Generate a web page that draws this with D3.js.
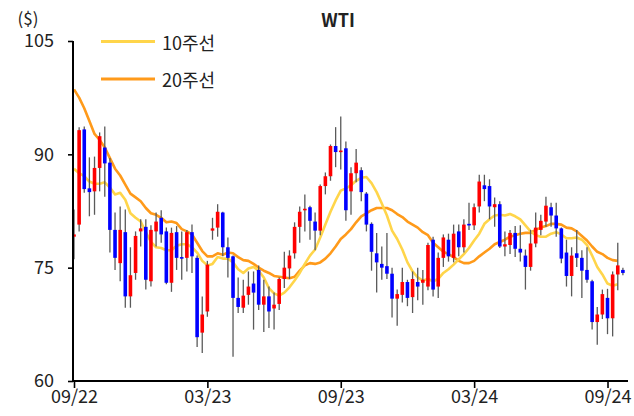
<!DOCTYPE html>
<html><head><meta charset="utf-8">
<script src="https://cdn.jsdelivr.net/npm/d3@7"></script>
<style>
body{margin:0;background:#fff;}
text{font-family:"Noto Sans CJK KR","Noto Sans",sans-serif;fill:#222;}
</style></head><body>
<svg id="c" width="634" height="416"></svg>
<script>
const weeks = [
"2022-09-30","2022-10-07","2022-10-14","2022-10-21","2022-10-28","2022-11-04","2022-11-11","2022-11-18","2022-11-25","2022-12-02","2022-12-09","2022-12-16","2022-12-23","2022-12-30",
"2023-01-06","2023-01-13","2023-01-20","2023-01-27","2023-02-03","2023-02-10","2023-02-17","2023-02-24","2023-03-03","2023-03-10","2023-03-17","2023-03-24","2023-03-31","2023-04-07","2023-04-14","2023-04-21","2023-04-28","2023-05-05","2023-05-12","2023-05-19","2023-05-26","2023-06-02","2023-06-09","2023-06-16","2023-06-23","2023-06-30","2023-07-07","2023-07-14","2023-07-21","2023-07-28","2023-08-04","2023-08-11","2023-08-18","2023-08-25","2023-09-01","2023-09-08","2023-09-15","2023-09-22","2023-09-29","2023-10-06","2023-10-13","2023-10-20","2023-10-27","2023-11-03","2023-11-10","2023-11-17","2023-11-24","2023-12-01","2023-12-08","2023-12-15","2023-12-22","2023-12-29",
"2024-01-05","2024-01-12","2024-01-19","2024-01-26","2024-02-02","2024-02-09","2024-02-16","2024-02-23","2024-03-01","2024-03-08","2024-03-15","2024-03-22","2024-03-29","2024-04-05","2024-04-12","2024-04-19","2024-04-26","2024-05-03","2024-05-10","2024-05-17","2024-05-24","2024-05-31","2024-06-07","2024-06-14","2024-06-21","2024-06-28","2024-07-05","2024-07-12","2024-07-19","2024-07-26","2024-08-02","2024-08-09","2024-08-16","2024-08-23","2024-08-30","2024-09-06","2024-09-13","2024-09-20","2024-09-27","2024-10-04","2024-10-11","2024-10-18"];

const opens = [79.1,80.7,93.3,85.5,85.1,88.2,90.9,88.9,80.0,75.6,79.7,71.2,74.3,79.8,
80.4,73.2,79.8,81.6,79.8,73.0,79.7,76.4,76.3,79.7,76.3,66.4,69.2,79.9,80.3,82.3,77.7,76.5,71.0,69.7,71.4,72.9,74.7,70.1,71.2,69.6,70.2,73.5,74.9,76.9,80.4,82.6,83.0,81.1,79.9,85.8,87.1,91.1,90.4,90.8,85.1,87.5,87.9,84.8,80.8,76.9,75.5,75.2,74.2,70.9,71.4,73.1,
71.1,73.1,73.0,72.5,78.7,72.5,76.3,78.7,76.3,79.8,77.7,80.8,80.6,83.1,85.9,85.8,83.0,83.4,77.8,78.0,79.6,77.5,76.6,75.1,78.2,80.0,81.1,83.0,81.9,80.2,77.0,73.9,76.9,76.3,74.7,73.2,67.8,68.8,71.0,68.3,74.1,74.7];
const highs = [82.7,93.6,93.7,89.6,89.7,92.9,93.7,89.5,82.3,83.1,82.7,77.7,79.8,81.4,
81.4,80.6,82.3,82.6,80.3,80.3,80.5,79.8,80.0,80.7,76.6,71.2,75.9,81.6,83.4,82.4,79.0,76.6,73.7,73.4,74.5,74.5,75.3,73.4,72.5,71.7,73.7,77.1,77.3,81.0,83.1,84.7,83.2,82.3,86.0,87.6,91.3,93.6,95.0,91.7,88.3,90.7,88.3,85.0,81.0,79.6,77.8,79.6,75.0,72.1,75.0,73.4,
74.5,75.0,74.7,78.3,79.1,77.0,79.4,79.5,80.7,80.7,81.4,83.6,83.5,87.3,87.3,86.7,84.3,83.8,79.8,80.0,80.5,80.6,77.4,80.0,82.3,82.0,84.4,83.6,83.6,80.3,78.7,77.7,80.0,77.3,77.7,73.4,69.8,72.1,72.2,74.5,78.3,75.0];
const lows = [76.1,79.8,84.9,81.8,82.0,85.1,84.4,77.0,74.7,73.2,69.7,69.7,73.4,77.8,
72.1,72.5,77.8,78.3,72.8,71.8,74.7,73.4,74.5,74.3,64.5,63.7,68.5,78.7,79.1,76.5,73.7,63.2,69.0,69.0,70.1,66.8,69.4,66.5,67.0,66.8,69.4,72.3,73.5,76.2,78.3,79.8,78.7,77.3,79.3,84.7,86.5,88.3,88.0,81.2,82.0,86.3,83.8,79.8,74.6,71.7,73.4,73.5,68.4,67.3,70.4,69.9,
69.0,70.7,70.1,72.0,71.2,71.0,75.1,75.8,75.7,76.5,77.0,80.0,80.0,82.3,83.8,81.4,80.4,77.6,76.5,76.8,76.4,75.8,72.1,74.6,77.7,79.3,80.4,80.4,79.1,75.6,72.5,71.2,75.1,71.0,73.0,66.8,64.8,68.2,66.2,65.9,72.0,74.0];
const closes = [79.4,93.2,85.4,85.0,88.2,92.4,88.8,80.0,76.3,80.0,71.2,74.0,79.2,80.2,
73.4,80.0,81.1,79.4,73.0,79.6,76.3,76.2,79.7,76.5,65.8,68.8,75.4,80.2,82.4,77.7,76.3,71.0,69.8,71.3,72.5,71.7,70.1,71.2,69.2,70.1,73.5,75.0,76.6,80.4,82.4,82.8,81.2,79.9,85.8,87.1,91.1,90.3,90.5,82.6,87.5,88.9,85.0,80.7,77.1,75.7,75.0,74.2,70.9,71.5,73.1,71.0,
73.5,72.5,73.4,78.0,72.1,76.3,79.0,76.5,79.5,77.7,80.7,80.6,83.0,86.4,85.4,83.1,83.4,77.8,78.1,79.6,77.5,77.0,75.1,78.2,80.3,81.2,83.2,81.9,80.2,76.2,73.9,76.6,76.3,74.6,73.4,67.8,68.8,71.5,68.3,74.1,75.3,74.3];

const ma10 = [88.1,87.5,87.1,86.4,86.1,86.1,86.3,85.6,84.7,84.9,84.0,82.2,81.6,81.1,
79.7,78.4,77.7,77.6,77.3,77.3,77.9,78.1,78.1,77.7,77.0,75.9,75.3,75.5,76.4,76.2,76.2,75.7,74.8,74.3,74.9,75.1,74.6,73.7,72.3,71.6,71.3,71.7,72.4,73.3,74.3,75.5,76.6,77.4,79.0,80.7,82.4,83.9,85.2,85.5,85.9,86.5,86.9,87.0,86.2,85.0,83.5,81.9,79.9,78.8,77.4,75.7,
74.5,73.7,73.3,73.5,73.2,73.5,74.3,74.8,75.4,76.1,76.8,77.6,78.6,79.5,80.8,81.4,81.9,82.0,81.9,82.1,81.8,81.4,80.6,79.8,79.3,79.1,79.1,79.5,79.7,79.4,78.9,78.9,79.0,78.7,78.0,76.6,75.1,74.1,72.9,72.6,72.8];
const ma20 = [98.6,97.5,96.1,94.4,92.7,91.9,90.9,89.5,88.1,87.2,86.0,84.8,84.3,83.8,
82.9,82.2,82.0,81.6,81.0,81.1,80.9,80.1,79.8,79.4,78.3,77.2,76.5,76.5,76.9,76.7,77.0,76.9,76.4,76.0,75.9,75.5,75.0,74.6,74.3,73.9,73.8,73.7,73.6,73.8,74.6,75.3,75.6,75.5,75.7,76.2,76.9,77.8,78.8,79.4,80.1,81.0,81.8,82.2,82.6,82.9,82.9,82.9,82.6,82.1,81.7,81.1,
80.7,80.3,79.7,79.3,78.3,77.7,77.1,76.8,76.4,75.9,75.6,75.6,75.9,76.5,77.0,77.5,78.1,78.4,78.7,79.1,79.3,79.5,79.6,79.6,80.0,80.3,80.5,80.8,80.8,80.7,80.3,80.2,79.8,79.2,78.6,77.8,77.1,76.8,76.3,76.0,75.9];

const yTicks = [60, 75, 90, 105];
const xTickWeeks = ["2022-09-30","2023-03-31","2023-09-29","2024-03-29","2024-09-27"];
const xTickLabels = ["09/22","03/23","09/23","03/24","09/24"];
const legendLabels = ["10주선","20주선"];
const colors = {ma10:"#FFD54A", ma20:"#FF9A1A", up:"#FF0000", down:"#0000FF", wick:"#5a5a5a"};

const svg = d3.select("#c");
const x = d3.scalePoint().domain(weeks).range([74, 622.9]);
const y = d3.scaleLinear().domain([60, 105]).range([381, 41]);

// axes
const yAxis = d3.axisLeft(y).tickValues(yTicks).tickSize(5).tickSizeOuter(0).tickPadding(14);
const gy = svg.append("g").attr("transform","translate(73,0)").call(yAxis);
gy.select(".domain").remove();
gy.selectAll(".tick line").attr("stroke","#000").attr("stroke-width",1.6);
gy.selectAll(".tick text").attr("font-size",18).attr("fill","#222").style("font-family",'"Noto Sans CJK KR","Noto Sans",sans-serif');

const xAxis = d3.axisBottom(x).tickValues(xTickWeeks).tickFormat((d,i)=>xTickLabels[i]).tickSize(7).tickSizeOuter(0).tickPadding(2);
const gx = svg.append("g").attr("transform","translate(0,381)").call(xAxis);
gx.select(".domain").remove();
gx.selectAll(".tick line").attr("stroke","#000").attr("stroke-width",1.6);
gx.selectAll(".tick text").attr("font-size",18).attr("fill","#222").style("font-family",'"Noto Sans CJK KR","Noto Sans",sans-serif');

// MA lines
const line = d3.line().x((d,i)=>x(weeks[i])).y(d=>y(d));
svg.append("path").datum(ma20).attr("d",line).attr("fill","none").attr("stroke",colors.ma20).attr("stroke-width",2.6).attr("stroke-linejoin","round");
svg.append("path").datum(ma10).attr("d",line).attr("fill","none").attr("stroke",colors.ma10).attr("stroke-width",2.6).attr("stroke-linejoin","round");

// candles
const cw = 3.6;
const candles = svg.append("g").selectAll("g").data(weeks).join("g");
candles.append("line")
  .attr("x1",(d)=>x(d)).attr("x2",(d)=>x(d))
  .attr("y1",(d,i)=>y(highs[i])).attr("y2",(d,i)=>y(lows[i]))
  .attr("stroke",colors.wick).attr("stroke-width",1.3);
candles.append("rect")
  .attr("x",(d)=>x(d)-cw/2).attr("width",cw)
  .attr("y",(d,i)=>y(Math.max(opens[i],closes[i])))
  .attr("height",(d,i)=>Math.max(1.6, Math.abs(y(opens[i])-y(closes[i]))))
  .attr("fill",(d,i)=>closes[i]>=opens[i]?colors.up:colors.down);

// axis lines
svg.append("line").attr("x1",73).attr("x2",73).attr("y1",y(105)).attr("y2",382).attr("stroke","#000").attr("stroke-width",2);
svg.append("line").attr("x1",72).attr("x2",628).attr("y1",381).attr("y2",381).attr("stroke","#000").attr("stroke-width",2);

// titles
svg.append("text").attr("x",28).attr("y",17).attr("text-anchor","middle").attr("dominant-baseline","central").attr("font-size",17).text("($)");
svg.append("text").attr("x",338).attr("y",19).attr("text-anchor","middle").attr("dominant-baseline","central").attr("font-size",18).attr("font-weight","bold").text("WTI");

// legend
const lg = svg.append("g");
[[colors.ma10,41.5],[colors.ma20,79]].forEach((c,i)=>{
  lg.append("line").attr("x1",101).attr("x2",155).attr("y1",c[1]).attr("y2",c[1]).attr("stroke",c[0]).attr("stroke-width",2.8);
  lg.append("text").attr("x",162).attr("y",c[1]).attr("dominant-baseline","central").attr("font-size",18).text(legendLabels[i]);
});
</script>
</body></html>
